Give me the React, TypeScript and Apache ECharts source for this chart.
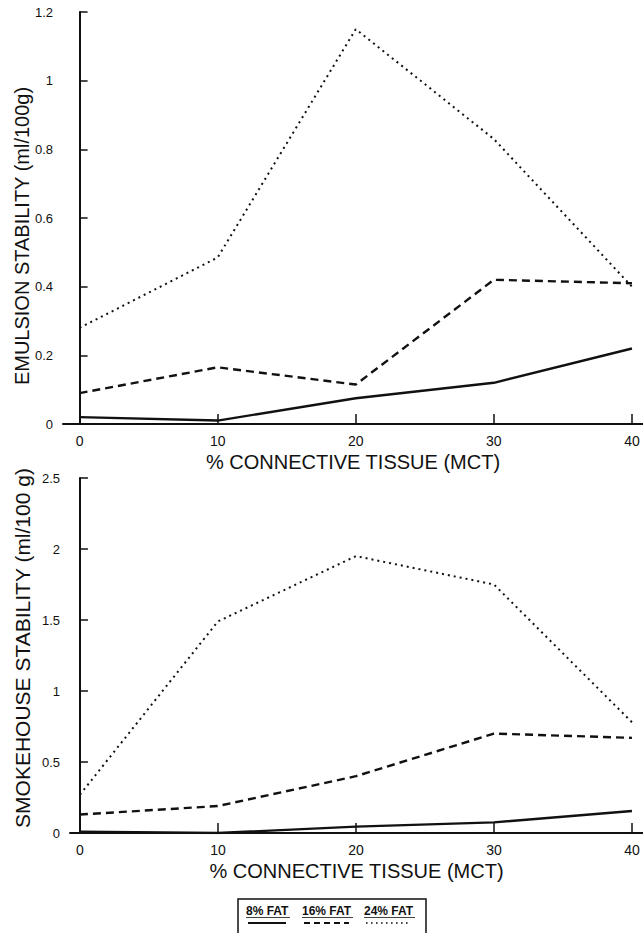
import React, { useEffect, useRef } from "react";
import * as echarts from "echarts";

const connectiveTissue = [0, 10, 20, 30, 40];
const xTickValues = [0, 10, 20, 30, 40];

const emulsionFat8 = [0.02, 0.01, 0.075, 0.12, 0.22];
const emulsionFat16 = [0.09, 0.165, 0.115, 0.42, 0.41];
const emulsionFat24 = [0.28, 0.485, 1.15, 0.83, 0.4];

const smokeFat8 = [0.01, 0.0, 0.045, 0.075, 0.155];
const smokeFat16 = [0.13, 0.19, 0.4, 0.7, 0.67];
const smokeFat24 = [0.27, 1.49, 1.95, 1.75, 0.78];

const seriesNames = ["8% FAT", "16% FAT", "24% FAT"];
const xAxisTitle = "% CONNECTIVE TISSUE (MCT)";
const yTitleTop = "EMULSION STABILITY (ml/100g)";
const yTitleBottom = "SMOKEHOUSE STABILITY (ml/100 g)";

const FONT = "'Liberation Sans', Arial, Helvetica, sans-serif";
const INK = "#111";

const pairs = (vals: number[]) => connectiveTissue.map((x, i) => [x, vals[i]]);

const lineStyles = [
  { type: "solid" as any, width: 2.4 },
  { type: [8, 5] as any, width: 2.4 },
  { type: [2, 4] as any, width: 2 },
];

function makeX(gridIndex: number, min: number) {
  return {
    gridIndex,
    type: "value",
    min,
    max: 40.8,
    axisLine: { show: true, onZero: false, lineStyle: { color: INK, width: 2 } },
    axisTick: { show: true, inside: true, length: 10, customValues: xTickValues, lineStyle: { color: INK, width: 1.5 } },
    axisLabel: { customValues: xTickValues, color: INK, fontSize: 14, margin: 10, fontFamily: FONT },
    splitLine: { show: false },
    name: xAxisTitle,
    nameLocation: "middle",
    nameGap: 28,
    nameTextStyle: { fontSize: 20, color: INK, fontFamily: FONT },
  };
}

function makeY(gridIndex: number, max: number, interval: number) {
  return {
    gridIndex,
    type: "value",
    min: 0,
    max,
    interval,
    axisLine: { show: true, lineStyle: { color: INK, width: 2 } },
    axisTick: { show: true, inside: true, length: 8, lineStyle: { color: INK, width: 1.5 } },
    axisLabel: {
      color: INK,
      fontSize: 13,
      margin: 10,
      fontFamily: FONT,
      formatter: (v: number) => String(Math.round(v * 10) / 10),
    },
    splitLine: { show: false },
  };
}

export default function App() {
  const ref = useRef<HTMLDivElement>(null);
  useEffect(() => {
    if (!ref.current) return;
    const chart = echarts.init(ref.current, undefined, { renderer: "svg" });
    const top = [emulsionFat8, emulsionFat16, emulsionFat24];
    const bottom = [smokeFat8, smokeFat16, smokeFat24];
    const series: any[] = [];
    top.forEach((vals, i) =>
      series.push({
        name: seriesNames[i],
        type: "line",
        xAxisIndex: 0,
        yAxisIndex: 0,
        data: pairs(vals),
        symbol: "none",
        lineStyle: { color: INK, ...lineStyles[i] },
      })
    );
    bottom.forEach((vals, i) =>
      series.push({
        name: seriesNames[i],
        type: "line",
        xAxisIndex: 1,
        yAxisIndex: 1,
        data: pairs(vals),
        symbol: "none",
        lineStyle: { color: INK, ...lineStyles[i] },
      })
    );

    const legendX = [246, 302, 364];
    const legendW = [44, 51, 51];
    const graphic: any[] = [
      {
        type: "text",
        x: 22,
        y: 236,
        rotation: Math.PI / 2,
        style: { text: yTitleTop, fontSize: 20, fontFamily: FONT, fill: INK, align: "center", verticalAlign: "middle" },
      },
      {
        type: "text",
        x: 22,
        y: 648,
        rotation: Math.PI / 2,
        style: { text: yTitleBottom, fontSize: 21, fontFamily: FONT, fill: INK, align: "center", verticalAlign: "middle" },
      },
      {
        type: "rect",
        shape: { x: 238, y: 899, width: 188, height: 40 },
        style: { fill: "none", stroke: INK, lineWidth: 1.5 },
      },
    ];
    seriesNames.forEach((n, i) => {
      graphic.push({
        type: "text",
        x: legendX[i],
        y: 911,
        style: { text: n, fontSize: 12, fontWeight: "bold", fontFamily: FONT, fill: INK, align: "left", verticalAlign: "middle" },
      });
      graphic.push({
        type: "line",
        shape: { x1: legendX[i], y1: 917.5, x2: legendX[i] + legendW[i], y2: 917.5 },
        style: { stroke: INK, lineWidth: 0.8 },
      });
      graphic.push({
        type: "line",
        shape: { x1: legendX[i] + 2, y1: 923, x2: legendX[i] + legendW[i] - 4, y2: 923 },
        style: { stroke: INK, lineWidth: i === 2 ? 1.6 : 2, lineDash: i === 0 ? null : i === 1 ? [6, 4] : [1.6, 3.4] },
      });
    });

    chart.setOption({
      animation: false,
      backgroundColor: "#fff",
      textStyle: { fontFamily: FONT },
      grid: [
        { left: 63, top: 12, right: 0, height: 412, containLabel: false },
        { left: 70, top: 478, right: 0, height: 355, containLabel: false },
      ],
      xAxis: [makeX(0, -1.2), makeX(1, -0.72)],
      yAxis: [makeY(0, 1.2, 0.2), makeY(1, 2.5, 0.5)],
      series,
      graphic,
    });
    return () => chart.dispose();
  }, []);
  return (
    <div
      ref={ref}
      style={{ position: "absolute", left: 0, top: 0, width: 643, height: 933, background: "#fff" }}
    />
  );
}
